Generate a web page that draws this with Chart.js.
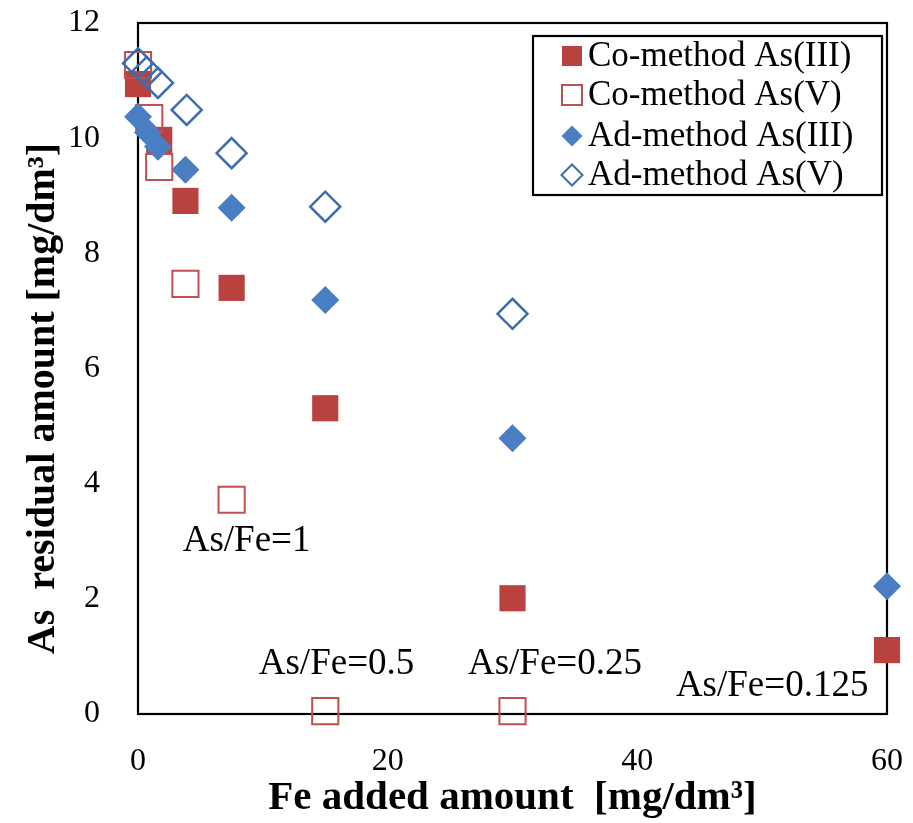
<!DOCTYPE html>
<html>
<head>
<meta charset="utf-8">
<script src="https://cdn.jsdelivr.net/npm/chart.js@4"></script>
<style>
  body { margin: 0; background: #fff; }
  #wrap { width: 913px; height: 823px; }
</style>
</head>
<body>
<div id="wrap"><canvas id="asChart" width="913" height="823"></canvas></div>
<script>
// Fe added amount (x) and As residual amount (y), mg/dm3
const feCoIII = [0, 1.7, 3.8, 7.5, 15, 30, 60];
const asCoIII = [10.94, 9.97, 8.91, 7.40, 5.31, 2.01, 1.11];

const feCoV = [0, 0.9, 1.7, 3.8, 7.5, 15, 30];
const asCoV = [11.27, 10.35, 9.5, 7.47, 3.72, 0.05, 0.05];

const feAdIII = [0, 0.8, 1.6, 3.8, 7.5, 15, 30, 60];
const asAdIII = [10.37, 10.1, 9.85, 9.45, 8.79, 7.19, 4.79, 2.22];

const feAdV = [0, 0.7, 1.6, 3.9, 7.5, 15, 30];
const asAdV = [11.3, 11.15, 10.96, 10.49, 9.74, 8.81, 6.95];

const seriesNames = ['Co-method As(III)', 'Co-method As(V)', 'Ad-method As(III)', 'Ad-method As(V)'];

const xTicks = [0, 20, 40, 60];
const yTicks = [0, 2, 4, 6, 8, 10, 12];

// molar ratio notes and where they sit (data units)
const ratioText = ['As/Fe=1', 'As/Fe=0.5', 'As/Fe=0.25', 'As/Fe=0.125'];
const ratioX = [8.7, 15.9, 33.4, 50.8];
const ratioY = [3.0, 0.87, 0.87, 0.49];

const RED = '#B9423E';
const BLUE = '#4A7EC3';
const BLUE_LINE = '#3E6DAE';
const SERIF = '"Liberation Serif", "Times New Roman", serif';

const toPoints = (xs, ys) => xs.map((x, i) => ({ x: x, y: ys[i] }));

// fixed axis boxes: no extra room for overhanging tick labels
const noOverhang = (s) => {
  s.paddingTop = 0;
  s.paddingBottom = 0;
  s.paddingLeft = 0;
  s.paddingRight = 0;
};

// frame around the plot, legend box and ratio notes
const decorations = {
  id: 'decorations',
  beforeDatasetsDraw(chart) {
    const { ctx, chartArea: a } = chart;
    ctx.save();
    ctx.strokeStyle = '#000';
    ctx.lineWidth = 2.2;
    ctx.strokeRect(a.left, a.top, a.right - a.left, a.bottom - a.top);
    ctx.restore();
  },
  afterDraw(chart) {
    const { ctx } = chart;
    const xs = chart.scales.x, ys = chart.scales.y;

    ctx.save();
    ctx.fillStyle = '#000';
    ctx.font = '37px ' + SERIF;
    ctx.textAlign = 'center';
    ctx.textBaseline = 'middle';
    ratioText.forEach((t, i) => {
      ctx.fillText(t, xs.getPixelForValue(ratioX[i]), ys.getPixelForValue(ratioY[i]));
    });

    // legend
    const box = { left: 533, top: 36, right: 882, bottom: 195 };
    ctx.fillStyle = '#fff';
    ctx.fillRect(box.left, box.top, box.right - box.left, box.bottom - box.top);
    ctx.strokeStyle = '#000';
    ctx.lineWidth = 2.2;
    ctx.strokeRect(box.left, box.top, box.right - box.left, box.bottom - box.top);

    const rows = [56, 95, 136, 175];
    const mx = 572;
    chart.data.datasets.slice().sort((p, q) => p.legendIndex - q.legendIndex).forEach((ds, i) => {
      const y = rows[i];
      ctx.beginPath();
      if (ds.pointStyle === 'rect') {
        ctx.rect(mx - 10, y - 10, 20, 20);
      } else {
        ctx.moveTo(mx - 10.5, y);
        ctx.lineTo(mx, y - 10.5);
        ctx.lineTo(mx + 10.5, y);
        ctx.lineTo(mx, y + 10.5);
        ctx.closePath();
      }
      if (ds.pointBackgroundColor !== 'transparent') {
        ctx.fillStyle = ds.pointBackgroundColor;
        ctx.fill();
      } else {
        ctx.fillStyle = '#fff';
        ctx.fill();
        ctx.strokeStyle = ds.pointBorderColor;
        ctx.lineWidth = 2;
        ctx.stroke();
      }
      ctx.fillStyle = '#000';
      ctx.font = '35px ' + SERIF;
      ctx.textAlign = 'left';
      ctx.textBaseline = 'middle';
      ctx.fillText(ds.label, 588, y + 1);
    });
    ctx.restore();
  }
};

new Chart(document.getElementById('asChart'), {
  type: 'scatter',
  data: {
    datasets: [
      {
        label: seriesNames[3], legendIndex: 3, order: 1,
        data: toPoints(feAdV, asAdV),
        pointStyle: 'rectRot', pointRadius: 15, pointHoverRadius: 15,
        pointBackgroundColor: 'transparent', pointBorderColor: BLUE_LINE, pointBorderWidth: 2.5,
        clip: false
      },
      {
        label: seriesNames[2], legendIndex: 2, order: 2,
        data: toPoints(feAdIII, asAdIII),
        pointStyle: 'rectRot', pointRadius: 14, pointHoverRadius: 14,
        pointBackgroundColor: BLUE, pointBorderColor: BLUE, pointBorderWidth: 0,
        clip: false
      },
      {
        label: seriesNames[1], legendIndex: 1, order: 3,
        data: toPoints(feCoV, asCoV),
        pointStyle: 'rect', pointRadius: 18.5, pointHoverRadius: 18.5,
        pointBackgroundColor: 'transparent', pointBorderColor: '#C0504D', pointBorderWidth: 2,
        clip: false
      },
      {
        label: seriesNames[0], legendIndex: 0, order: 4,
        data: toPoints(feCoIII, asCoIII),
        pointStyle: 'rect', pointRadius: 18.5, pointHoverRadius: 18.5,
        pointBackgroundColor: RED, pointBorderColor: RED, pointBorderWidth: 0,
        clip: false
      }
    ]
  },
  options: {
    responsive: false,
    animation: false,
    layout: { padding: { left: 0, right: 26, top: 23, bottom: 0 } },
    plugins: {
      legend: { display: false },
      tooltip: { enabled: false }
    },
    scales: {
      x: {
        type: 'linear',
        min: 0, max: 60,
        afterBuildTicks: (s) => { s.ticks = xTicks.map(v => ({ value: v })); },
        afterFit: (s) => { s.height = 109; noOverhang(s); },
        grid: { display: false },
        border: { display: false },
        ticks: { color: '#000', padding: 20, maxRotation: 0, font: { family: SERIF, size: 32 } },
        title: {
          display: true,
          text: 'Fe added amount  [mg/dm³]',
          color: '#000',
          padding: { top: 0, bottom: 0 },
          font: { family: SERIF, size: 41, weight: 'bold' }
        }
      },
      y: {
        type: 'linear',
        min: 0, max: 12,
        afterBuildTicks: (s) => { s.ticks = yTicks.map(v => ({ value: v })); },
        afterFit: (s) => { s.width = 138; noOverhang(s); },
        grid: { display: false },
        border: { display: false },
        ticks: { color: '#000', padding: 30, font: { family: SERIF, size: 32 } },
        title: {
          display: true,
          // trailing blanks push the rotated text a little lower along the axis
          text: 'As  residual amount [mg/dm³]      ',
          color: '#000',
          padding: { top: 20, bottom: 0 },
          font: { family: SERIF, size: 40, weight: 'bold' }
        }
      }
    }
  },
  plugins: [decorations]
});
</script>
</body>
</html>
